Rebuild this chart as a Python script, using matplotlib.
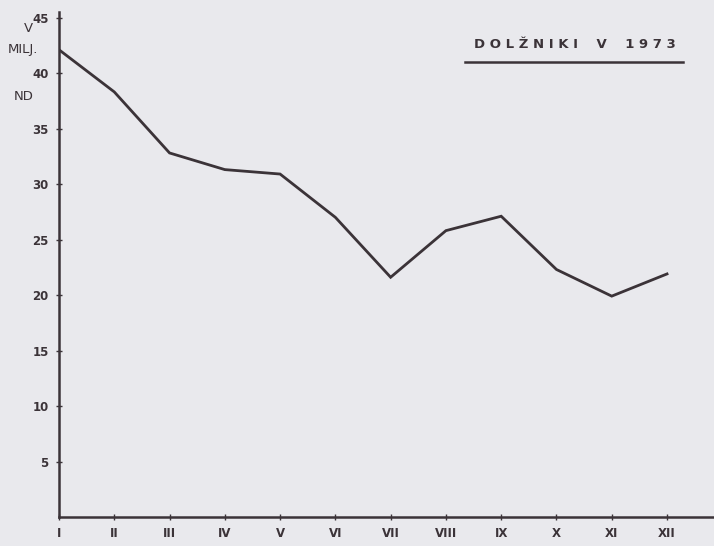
import numpy as np
import matplotlib.pyplot as plt

# Months (Roman numerals) and debt values in millions ND
months = ['I', 'II', 'III', 'IV', 'V', 'VI', 'VII', 'VIII', 'IX', 'X', 'XI', 'XII']
values = [42.1, 38.3, 32.8, 31.3, 30.9, 27.0, 21.6, 25.8, 27.1, 22.3, 19.9, 21.9]
yticks = [5, 10, 15, 20, 25, 30, 35, 40, 45]

paper = '#e9e9ed'
ink = '#3b3338'

fig = plt.figure(figsize=(7.14, 5.46), dpi=100, facecolor=paper)
ax = fig.add_axes([59 / 714, 29 / 546, 1 - 59 / 714, (517 - 12) / 546])
ax.set_facecolor(paper)

x = np.arange(1, len(months) + 1)
ax.plot(x, values, color=ink, linewidth=2.0, solid_joinstyle='miter')

ax.set_xlim(1, 12.85)
ax.set_ylim(0, 45.5)

for side in ['top', 'right']:
    ax.spines[side].set_visible(False)
for side in ['left', 'bottom']:
    ax.spines[side].set_color(ink)
    ax.spines[side].set_linewidth(1.8)

ax.set_xticks(x)
ax.set_xticklabels(months, fontsize=8.5, fontweight='bold', color=ink)
ax.set_yticks(yticks)
ax.set_yticklabels([str(v) for v in yticks], fontsize=8.5, fontweight='bold', color=ink)
ax.tick_params(axis='both', direction='inout', length=5, width=1, color=ink)
ax.tick_params(axis='x', pad=5)
ax.tick_params(axis='y', pad=5)

# Unit label at top left
fig.text(24 / 714, 1 - 28 / 546, 'V', fontsize=9.5, color=ink, ha='left', va='center')
fig.text(8 / 714, 1 - 50 / 546, 'MILJ.', fontsize=9.5, color=ink, ha='left', va='center')
fig.text(14 / 714, 1 - 97 / 546, 'ND', fontsize=9.5, color=ink, ha='left', va='center')

# Underlined title
fig.text(575 / 714, 1 - 45 / 546, 'D O L Ž N I K I    V    1 9 7 3', fontsize=9.5,
         fontweight='bold', color=ink, ha='center', va='center')
fig.add_artist(plt.Line2D([465 / 714, 683 / 714], [1 - 62 / 546, 1 - 62 / 546],
                          color=ink, linewidth=1.8))

fig.savefig('out.png', dpi=100, facecolor=paper)
